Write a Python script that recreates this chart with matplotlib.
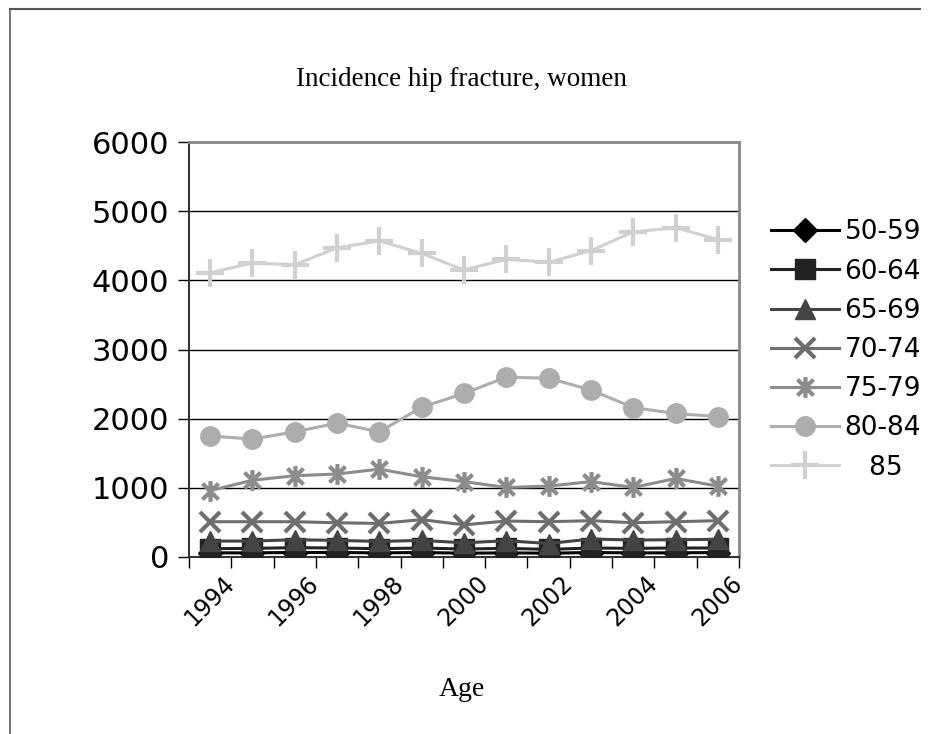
import matplotlib
matplotlib.use("Agg")
import matplotlib.pyplot as plt
import matplotlib.transforms as mtransforms
from matplotlib.path import Path
from matplotlib.lines import Line2D

years = list(range(1994, 2007))
tick_years = ["1994", "1996", "1998", "2000", "2002", "2004", "2006"]

f50 = [60, 60, 65, 65, 60, 65, 55, 60, 55, 65, 60, 60, 65]
f60 = [120, 125, 135, 130, 120, 130, 115, 125, 110, 130, 125, 130, 130]
f65 = [230, 230, 250, 240, 225, 240, 205, 235, 195, 260, 245, 250, 255]
f70 = [510, 510, 510, 495, 485, 540, 465, 520, 510, 525, 495, 510, 525]
f75 = [960, 1110, 1175, 1200, 1270, 1160, 1090, 1005, 1025, 1090, 1005, 1135, 1025]
f80 = [1750, 1705, 1810, 1935, 1810, 2165, 2365, 2600, 2585, 2415, 2160, 2075, 2030]
f85 = [4110, 4250, 4225, 4470, 4570, 4390, 4150, 4305, 4260, 4430, 4700, 4760, 4590]

labels = ["50-59", "60-64", "65-69", "70-74", "75-79", "80-84", "   85"]

# excel style asterisk: X plus vertical bar
star = Path([(-1, -1), (1, 1), (-1, 1), (1, -1), (0, -1.3), (0, 1.3)],
            [Path.MOVETO, Path.LINETO, Path.MOVETO, Path.LINETO, Path.MOVETO, Path.LINETO])

styles = [
    dict(color="#000000", marker="D", ms=12),
    dict(color="#222222", marker="s", ms=14),
    dict(color="#444444", marker="^", ms=15),
    dict(color="#6e6e6e", marker="x", ms=15, mew=3),
    dict(color="#8c8c8c", marker=star, ms=15, mew=3),
    dict(color="#adadad", marker="o", ms=14),
    dict(color="#d0d0d0", marker="+", ms=20, mew=3),
]

fig = plt.figure(figsize=(9.29, 7.34), dpi=100)
ax = fig.add_axes([189 / 929, 1 - 557 / 734, 550 / 929, 415 / 734])

x = list(range(len(years)))
series = [f50, f60, f65, f70, f75, f80, f85]
for s, st, lab in zip(series, styles, labels):
    ax.plot(x, s, lw=2.2, label=lab, zorder=3, **st)

ax.set_xlim(-0.5, len(years) - 0.5)
ax.set_ylim(0, 6000)
ax.set_yticks(range(0, 6001, 1000))
ax.yaxis.grid(True, color="black", lw=1)
ax.set_axisbelow(True)

ax.set_xticks([i - 0.5 for i in range(len(years) + 1)])
ax.set_xticklabels([])
ax.set_xticks(x[::2], minor=True)
ax.set_xticklabels(tick_years, minor=True, rotation=45, ha="right",
                   rotation_mode="anchor", fontsize=17)
ax.tick_params(axis="x", which="major", length=8, width=1, direction="out")
ax.tick_params(axis="x", which="minor", length=0, pad=10)
ax.tick_params(axis="y", length=8, width=1, labelsize=22, pad=6)

# nudge the rotated year labels a bit to the right, like excel
shift = mtransforms.ScaledTranslation(0.12, 0, fig.dpi_scale_trans)
for lbl in ax.get_xticklabels(minor=True):
    lbl.set_transform(lbl.get_transform() + shift)

for side in ["left", "bottom"]:
    ax.spines[side].set_color("#333333")
    ax.spines[side].set_linewidth(1.5)
for side in ["top", "right"]:
    ax.spines[side].set_color("#888888")
    ax.spines[side].set_linewidth(2)

fig.legend(loc="center left", bbox_to_anchor=(760 / 929, 1 - 350 / 734),
           frameon=False, fontsize=19, handlelength=2.6, handletextpad=0.2,
           labelspacing=0.5, borderaxespad=0)

fig.text(0.497, 1 - 80 / 734, "Incidence hip fracture, women", ha="center",
         va="center", fontsize=19.5, family="Liberation Serif")
fig.text(0.497, 1 - 690 / 734, "Age", ha="center", va="center",
         fontsize=20, family="Liberation Serif")

# chart frame (left and top edges visible in the original)
fig.add_artist(Line2D([10 / 929, 10 / 929], [0, 1 - 9 / 734], color="#777777",
                      lw=1.5, transform=fig.transFigure))
fig.add_artist(Line2D([10 / 929, 920 / 929], [1 - 9 / 734, 1 - 9 / 734],
                      color="#555555", lw=1.5, transform=fig.transFigure))

fig.savefig("out.png", dpi=100)
